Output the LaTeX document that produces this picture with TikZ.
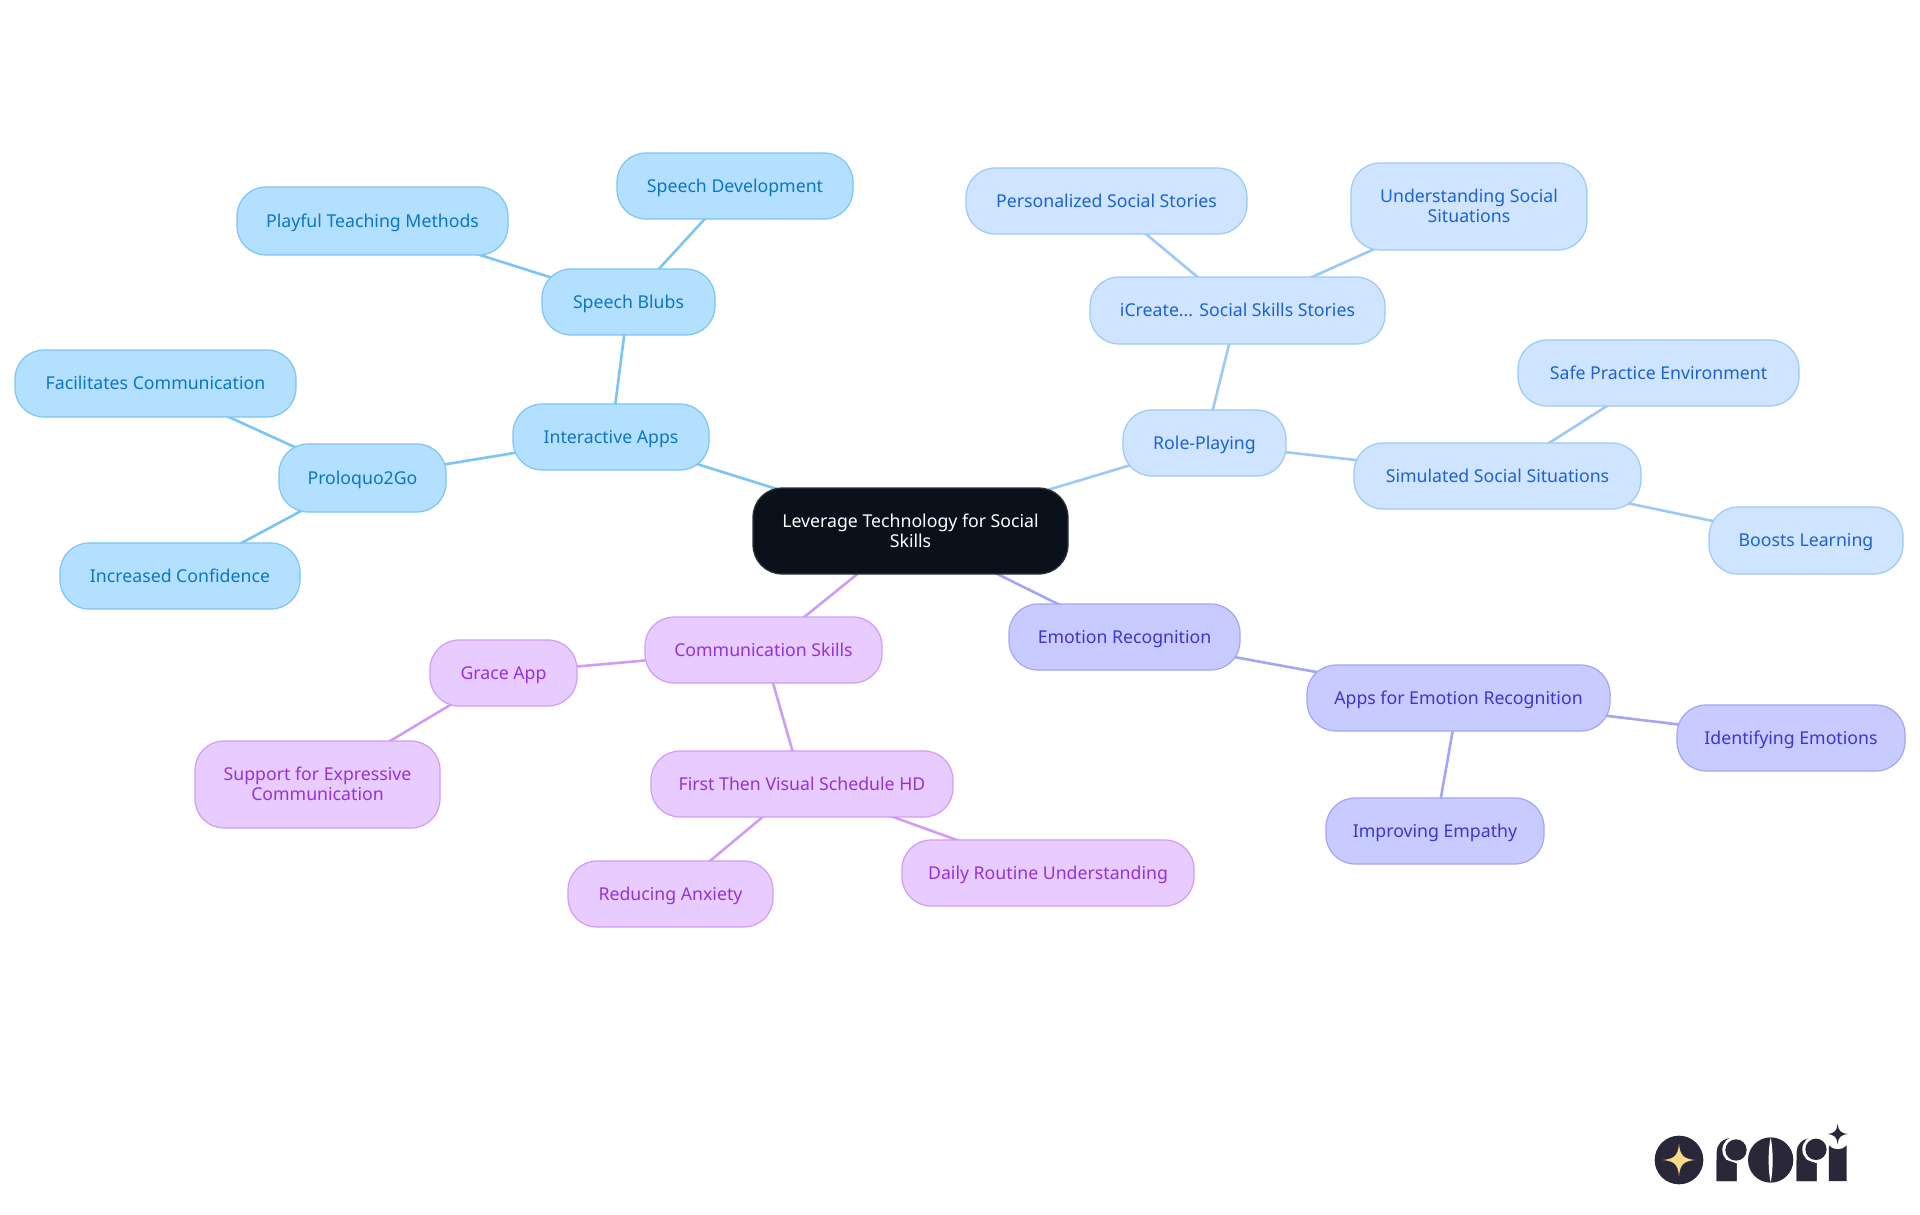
\documentclass[tikz,border=0pt]{standalone}
\usepackage{fontspec}
\setmainfont{Noto Sans}
\usetikzlibrary{backgrounds}
\definecolor{skyF}{HTML}{B3E0FF}\definecolor{skyD}{HTML}{7CC4F5}\definecolor{skyT}{HTML}{0F74C4}
\definecolor{bluF}{HTML}{CFE4FF}\definecolor{bluD}{HTML}{9CC9F7}\definecolor{bluT}{HTML}{1D62D0}
\definecolor{indF}{HTML}{C8CBFF}\definecolor{indD}{HTML}{A5A4F5}\definecolor{indT}{HTML}{3F34CC}
\definecolor{purF}{HTML}{E8CBFF}\definecolor{purD}{HTML}{D09CF5}\definecolor{purT}{HTML}{9333D6}
\definecolor{coreF}{HTML}{0A111A}\definecolor{logoD}{HTML}{2A2838}\definecolor{logoG}{HTML}{FBD98A}
\tikzset{
  pill/.style={rounded corners=29pt,line width=1.2pt,align=center,inner sep=0pt,font=\fontsize{17.7}{19.8}\selectfont},
  sky/.style={pill,draw=skyD,fill=skyF,text=skyT},
  blu/.style={pill,draw=bluD,fill=bluF,text=bluT},
  ind/.style={pill,draw=indD,fill=indF,text=indT},
  pur/.style={pill,draw=purD,fill=purF,text=purT},
  core/.style={pill,draw=coreF!85!white,fill=coreF,text=white},
  link/.style={line width=2.6pt},
}
% box: style, name, x1, y1, x2, y2, text
\newcommand{\pillbox}[7]{%
  \pgfmathsetmacro{\bw}{#5-#3}\pgfmathsetmacro{\bh}{#6-#4}%
  \node[#1,minimum width=\bw pt,minimum height=\bh pt] (#2) at ({(#3+#5)/2},{(#4+#6)/2}) {\rule{0pt}{16.5pt}#7\vphantom{Ag}};}
\begin{document}
\begin{tikzpicture}[x=1pt,y=-1pt]
\useasboundingbox (0,0) rectangle (1920,1215);
\pillbox{core}{c}{753}{488}{1068}{574}{Leverage Technology for Social\\Skills}
\pillbox{sky}{ia}{513}{404}{709}{470}{Interactive Apps}
\pillbox{sky}{sb}{542}{269}{715}{335}{Speech Blubs}
\pillbox{sky}{sd}{617}{153}{853}{219}{Speech Development}
\pillbox{sky}{pt}{237}{187}{508}{255}{Playful Teaching Methods}
\pillbox{sky}{pq}{279}{444}{446}{512}{Proloquo2Go}
\pillbox{sky}{fc}{15}{350}{296}{417}{Facilitates Communication}
\pillbox{sky}{ic}{60}{543}{300}{609}{Increased Confidence}
\pillbox{blu}{rp}{1123}{410}{1286}{476}{Role-Playing}
\pillbox{blu}{ics}{1090}{277}{1385}{344}{iCreate... Social Skills Stories}
\pillbox{blu}{ps}{966}{168}{1247}{234}{Personalized Social Stories}
\pillbox{blu}{us}{1351}{163}{1587}{250}{Understanding Social\\Situations}
\pillbox{blu}{ss}{1354}{443}{1641}{509}{Simulated Social Situations}
\pillbox{blu}{sp}{1518}{340}{1799}{406}{Safe Practice Environment}
\pillbox{blu}{bl}{1709}{507}{1903}{574}{Boosts Learning}
\pillbox{ind}{er}{1009}{604}{1240}{670}{Emotion Recognition}
\pillbox{ind}{ae}{1307}{665}{1610}{731}{Apps for Emotion Recognition}
\pillbox{ind}{ie}{1677}{705}{1905}{771}{Identifying Emotions}
\pillbox{ind}{im}{1326}{798}{1544}{864}{Improving Empathy}
\pillbox{pur}{cs}{645}{617}{882}{683}{Communication Skills}
\pillbox{pur}{ga}{430}{640}{577}{706}{Grace App}
\pillbox{pur}{se}{195}{741}{440}{828}{Support for Expressive\\Communication}
\pillbox{pur}{ft}{651}{751}{953}{817}{First Then Visual Schedule HD}
\pillbox{pur}{ra}{568}{861}{773}{927}{Reducing Anxiety}
\pillbox{pur}{dr}{902}{840}{1194}{906}{Daily Routine Understanding}
\begin{scope}[on background layer]
\fill[white] (0,0) rectangle (1920,1215);
\begin{scope}[link,draw=skyD]
\draw (c.center)--(ia.center); \draw (ia.center)--(sb.center); \draw (sb.center)--(sd.center);
\draw (sb.center)--(pt.center); \draw (ia.center)--(pq.center); \draw (pq.center)--(fc.center); \draw (pq.center)--(ic.center);
\end{scope}
\begin{scope}[link,draw=bluD]
\draw (c.center)--(rp.center); \draw (rp.center)--(ics.center); \draw (ics.center)--(ps.center);
\draw (ics.center)--(us.center); \draw (rp.center)--(ss.center); \draw (ss.center)--(sp.center); \draw (ss.center)--(bl.center);
\end{scope}
\begin{scope}[link,draw=indD]
\draw (c.center)--(er.center); \draw (er.center)--(ae.center); \draw (ae.center)--(ie.center); \draw (ae.center)--(im.center);
\end{scope}
\begin{scope}[link,draw=purD]
\draw (c.center)--(cs.center); \draw (cs.center)--(ga.center); \draw (ga.center)--(se.center);
\draw (cs.center)--(ft.center); \draw (ft.center)--(ra.center); \draw (ft.center)--(dr.center);
\end{scope}
\end{scope}
% logo, in coordinates of a 3x crop
\begin{scope}[shift={(1630,1110)},x=0.3333pt,y=-0.3333pt]
\fill[logoD] (147,150) circle[radius=73];
\fill[logoG] (147,102) .. controls (150,135) and (160,147) .. (196,150) .. controls (160,153) and (150,165) .. (147,198) .. controls (144,165) and (134,153) .. (98,150) .. controls (134,147) and (144,135) .. (147,102) -- cycle;
% r
\fill[logoD] (260,213) -- (260,125) .. controls (260,105) and (275,88) .. (300,84) -- (320,84) -- (320,213) -- cycle;
\fill[white] (318,120) circle[radius=41];
\fill[logoD] (318,120) circle[radius=32];
\fill[logoD] (260,213) -- (320,213) -- (320,160) -- (290,150) -- (260,150) -- cycle;
% o
\fill[logoD] (422,150) circle[radius=68];
\fill[white] (422,82) .. controls (414,120) and (414,180) .. (422,218) .. controls (430,180) and (430,120) .. (422,82) -- cycle;
% r
\fill[logoD] (500,213) -- (500,125) .. controls (500,105) and (515,88) .. (540,84) -- (560,84) -- (560,213) -- cycle;
\fill[white] (558,118) circle[radius=41];
\fill[logoD] (558,118) circle[radius=32];
\fill[logoD] (500,213) -- (560,213) -- (560,160) -- (530,150) -- (500,150) -- cycle;
% i
\fill[logoD] (597,213) -- (597,106) .. controls (612,122) and (635,122) .. (650,106) -- (650,213) -- cycle;
\fill[logoD] (623,41) .. controls (625,62) and (632,70) .. (654,72) .. controls (632,74) and (625,82) .. (623,103) .. controls (621,82) and (614,74) .. (592,72) .. controls (614,70) and (621,62) .. (623,41) -- cycle;
\end{scope}
\end{tikzpicture}
\end{document}
